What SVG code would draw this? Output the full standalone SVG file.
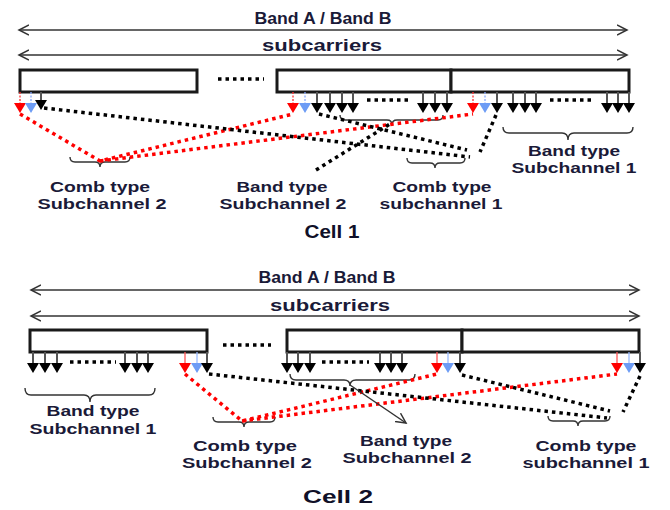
<svg xmlns="http://www.w3.org/2000/svg" xmlns:xlink="http://www.w3.org/1999/xlink" width="670" height="510" viewBox="0 0 670 510">
<style>
.t{font-family:"Liberation Sans",Arial,sans-serif;font-weight:bold;fill:#1a1a38;text-anchor:middle;font-size:14px}
.h{font-size:16px}
.c{font-size:18px;fill:#101028}
.box{fill:#fff;stroke:#1a1a1a;stroke-width:3}
.sh{stroke:#555;stroke-width:2}
.rs{stroke:#ff3030;stroke-width:1.3;stroke-dasharray:2 1.5}
.bs{stroke:#88aaff;stroke-width:1.3;stroke-dasharray:2 1.5}
.rs2{stroke:#ff5555;stroke-width:1.3}
.bs2{stroke:#99bbff;stroke-width:1.3}
.dk{stroke:#000;stroke-width:3.5;stroke-dasharray:3.5 4;fill:none}
.dr{stroke:#ff0000;stroke-width:3.5;stroke-dasharray:3.5 4;fill:none}
.br{fill:none;stroke:#333;stroke-width:1.4}
.ar{stroke:#333;stroke-width:1.5;fill:none}
</style>
<defs>
<path id="hk" d="M-6,0 L6,0 L0,10 Z" fill="#000"/>
<path id="hr" d="M-6,0 L6,0 L0,10 Z" fill="#ff0000"/>
<path id="hb" d="M-6,0 L6,0 L0,10 Z" fill="#6d9cf5"/>
<marker id="oa" markerWidth="12" markerHeight="12" refX="10" refY="6" orient="auto-start-reverse" markerUnits="userSpaceOnUse">
<path d="M0,1 L10,6 L0,11" fill="none" stroke="#333" stroke-width="1.5"/>
</marker>
</defs>

<!-- ===== CELL 1 ===== -->
<g id="c1-span">
<line class="ar" x1="19" y1="30" x2="627" y2="30" marker-start="url(#oa)" marker-end="url(#oa)"/>
<text class="t h" x="323" y="24" textLength="137" lengthAdjust="spacingAndGlyphs">Band A / Band B</text>
<line class="ar" x1="19" y1="55" x2="627" y2="55" marker-start="url(#oa)" marker-end="url(#oa)"/>
<text class="t h" x="322" y="51" textLength="120" lengthAdjust="spacingAndGlyphs">subcarriers</text>
</g>
<g id="c1-band1">
<rect class="box" x="20" y="70" width="177" height="22"/>
<line class="rs" x1="20" y1="92" x2="20" y2="103"/><use xlink:href="#hr" x="20" y="103"/>
<line class="bs" x1="31" y1="92" x2="31" y2="103"/><use xlink:href="#hb" x="31" y="103"/>
<line class="sh" x1="41" y1="92" x2="41" y2="101"/><use xlink:href="#hk" x="41" y="100"/>
</g>
<g id="c1-gap"><line class="dk" x1="218" y1="79" x2="264" y2="79"/></g>
<g id="c1-band2">
<rect class="box" x="277" y="70" width="174" height="22"/>
<line class="rs" x1="293" y1="92" x2="293" y2="103"/><use xlink:href="#hr" x="293" y="103"/>
<line class="bs" x1="305" y1="92" x2="305" y2="103"/><use xlink:href="#hb" x="305" y="103"/>
<line class="sh" x1="317" y1="92" x2="317" y2="103"/><use xlink:href="#hk" x="317" y="103"/>
<line class="sh" x1="330" y1="92" x2="330" y2="103"/><use xlink:href="#hk" x="330" y="103"/>
<line class="sh" x1="342" y1="92" x2="342" y2="103"/><use xlink:href="#hk" x="342" y="103"/>
<line class="sh" x1="353" y1="92" x2="353" y2="103"/><use xlink:href="#hk" x="353" y="103"/>
<line class="dk" x1="367" y1="100" x2="412" y2="100"/>
<line class="sh" x1="423" y1="92" x2="423" y2="103"/><use xlink:href="#hk" x="423" y="103"/>
<line class="sh" x1="435" y1="92" x2="435" y2="103"/><use xlink:href="#hk" x="435" y="103"/>
<line class="sh" x1="447" y1="92" x2="447" y2="103"/><use xlink:href="#hk" x="447" y="103"/>
</g>
<g id="c1-band3">
<rect class="box" x="451" y="70" width="178" height="22"/>
<line class="rs" x1="473" y1="92" x2="473" y2="103"/><use xlink:href="#hr" x="473" y="103"/>
<line class="bs" x1="485" y1="92" x2="485" y2="103"/><use xlink:href="#hb" x="485" y="103"/>
<line class="sh" x1="497" y1="92" x2="497" y2="103"/><use xlink:href="#hk" x="497" y="103"/>
<line class="sh" x1="513" y1="92" x2="513" y2="103"/><use xlink:href="#hk" x="513" y="103"/>
<line class="sh" x1="525" y1="92" x2="525" y2="103"/><use xlink:href="#hk" x="525" y="103"/>
<line class="sh" x1="536" y1="92" x2="536" y2="103"/><use xlink:href="#hk" x="536" y="103"/>
<line class="dk" x1="550" y1="100" x2="595" y2="100"/>
<line class="sh" x1="607" y1="92" x2="607" y2="103"/><use xlink:href="#hk" x="607" y="103"/>
<line class="sh" x1="618" y1="92" x2="618" y2="103"/><use xlink:href="#hk" x="618" y="103"/>
<line class="sh" x1="629" y1="92" x2="629" y2="103"/><use xlink:href="#hk" x="629" y="103"/>
</g>
<g id="c1-comb2">
<path class="br" d="M70,157 Q70,162 75,162 L95,162 Q100,162 100,167 Q100,162 105,162 L125,162 Q130,162 130,157"/>
<text class="t" x="100" y="192" textLength="100" lengthAdjust="spacingAndGlyphs">Comb type</text>
<text class="t" x="102" y="209" textLength="129" lengthAdjust="spacingAndGlyphs">Subchannel 2</text>
</g>
<g id="c1-bandsub2">
<path class="br" d="M340,115 Q340,120 345,120 L387,120 Q392,120 392,125 Q392,120 397,120 L438,120 Q443,120 443,115"/>
<text class="t" x="282" y="192" textLength="91" lengthAdjust="spacingAndGlyphs">Band type</text>
<text class="t" x="283" y="209" textLength="127" lengthAdjust="spacingAndGlyphs">Subchannel 2</text>
</g>
<g id="c1-comb1">
<path class="br" d="M407,158 Q407,163 412,163 L430,163 Q435,163 435,168 Q435,163 440,163 L460,163 Q465,163 465,158"/>
<text class="t" x="442" y="192" textLength="99" lengthAdjust="spacingAndGlyphs">Comb type</text>
<text class="t" x="441" y="209" textLength="123" lengthAdjust="spacingAndGlyphs">subchannel 1</text>
</g>
<g id="c1-bandsub1">
<path class="br" d="M503,127 Q503,133 509,133 L562,133 Q568,133 568,140 Q568,133 574,133 L627,133 Q633,133 633,127"/>
<text class="t" x="574" y="156" textLength="92" lengthAdjust="spacingAndGlyphs">Band type</text>
<text class="t" x="574" y="173" textLength="125" lengthAdjust="spacingAndGlyphs">Subchannel 1</text>
</g>
<g id="c1-title"><text class="t c" x="332" y="238" textLength="55" lengthAdjust="spacingAndGlyphs">Cell 1</text></g>

<!-- ===== CELL 2 ===== -->
<g id="c2-span">
<line class="ar" x1="31" y1="290" x2="639" y2="290" marker-start="url(#oa)" marker-end="url(#oa)"/>
<text class="t h" x="327" y="283" textLength="137" lengthAdjust="spacingAndGlyphs">Band A / Band B</text>
<line class="ar" x1="31" y1="316" x2="639" y2="316" marker-start="url(#oa)" marker-end="url(#oa)"/>
<text class="t h" x="330" y="311" textLength="120" lengthAdjust="spacingAndGlyphs">subcarriers</text>
</g>
<g id="c2-band1">
<rect class="box" x="30" y="330" width="177" height="22"/>
<line class="sh" x1="33" y1="352" x2="33" y2="363"/><use xlink:href="#hk" x="33" y="363"/>
<line class="sh" x1="45" y1="352" x2="45" y2="363"/><use xlink:href="#hk" x="45" y="363"/>
<line class="sh" x1="57" y1="352" x2="57" y2="363"/><use xlink:href="#hk" x="57" y="363"/>
<line class="dk" x1="70" y1="362" x2="116" y2="362"/>
<line class="sh" x1="125" y1="352" x2="125" y2="363"/><use xlink:href="#hk" x="125" y="363"/>
<line class="sh" x1="137" y1="352" x2="137" y2="363"/><use xlink:href="#hk" x="137" y="363"/>
<line class="sh" x1="148" y1="352" x2="148" y2="363"/><use xlink:href="#hk" x="148" y="363"/>
<line class="rs2" x1="185" y1="352" x2="185" y2="363"/><use xlink:href="#hr" x="185" y="363"/>
<line class="bs2" x1="197" y1="352" x2="197" y2="363"/><use xlink:href="#hb" x="197" y="363"/>
<line class="sh" x1="207" y1="352" x2="207" y2="363"/><use xlink:href="#hk" x="207" y="363"/>
</g>
<g id="c2-gap"><line class="dk" x1="223" y1="345" x2="271" y2="345"/></g>
<g id="c2-band2">
<rect class="box" x="287" y="330" width="175" height="22"/>
<line class="sh" x1="287" y1="352" x2="287" y2="363"/><use xlink:href="#hk" x="287" y="363"/>
<line class="sh" x1="298" y1="352" x2="298" y2="363"/><use xlink:href="#hk" x="298" y="363"/>
<line class="sh" x1="310" y1="352" x2="310" y2="363"/><use xlink:href="#hk" x="310" y="363"/>
<line class="dk" x1="322" y1="362" x2="369" y2="362"/>
<line class="sh" x1="380" y1="352" x2="380" y2="363"/><use xlink:href="#hk" x="380" y="363"/>
<line class="sh" x1="391" y1="352" x2="391" y2="363"/><use xlink:href="#hk" x="391" y="363"/>
<line class="sh" x1="402" y1="352" x2="402" y2="363"/><use xlink:href="#hk" x="402" y="363"/>
<line class="rs2" x1="437" y1="352" x2="437" y2="363"/><use xlink:href="#hr" x="437" y="363"/>
<line class="bs2" x1="448" y1="352" x2="448" y2="363"/><use xlink:href="#hb" x="448" y="363"/>
<line class="sh" x1="460" y1="352" x2="460" y2="363"/><use xlink:href="#hk" x="460" y="363"/>
</g>
<g id="c2-band3">
<rect class="box" x="462" y="330" width="177" height="22"/>
<line class="rs2" x1="617" y1="352" x2="617" y2="363"/><use xlink:href="#hr" x="617" y="363"/>
<line class="bs2" x1="629" y1="352" x2="629" y2="363"/><use xlink:href="#hb" x="629" y="363"/>
<line class="sh" x1="640" y1="352" x2="640" y2="363"/><use xlink:href="#hk" x="640" y="363"/>
</g>
<g id="c2-bandsub1">
<path class="br" d="M25,388 Q25,395 31,395 L84,395 Q90,395 90,402 Q90,395 96,395 L149,395 Q155,395 155,388"/>
<text class="t" x="93" y="416" textLength="93" lengthAdjust="spacingAndGlyphs">Band type</text>
<text class="t" x="93" y="434" textLength="127" lengthAdjust="spacingAndGlyphs">Subchannel 1</text>
</g>
<g id="c2-comb2">
<path class="br" d="M213,417 Q213,422 218,422 L239,422 Q244,422 244,427 Q244,422 249,422 L270,422 Q275,422 275,417"/>
<text class="t" x="245" y="451" textLength="104" lengthAdjust="spacingAndGlyphs">Comb type</text>
<text class="t" x="247" y="468" textLength="130" lengthAdjust="spacingAndGlyphs">Subchannel 2</text>
</g>
<g id="c2-bandsub2">
<path class="br" d="M290,374 Q290,380 296,380 L344,380 Q350,380 350,386 Q350,380 356,380 L409,380 Q415,380 415,374"/>
<text class="t" x="406" y="446" textLength="92" lengthAdjust="spacingAndGlyphs">Band type</text>
<text class="t" x="407" y="463" textLength="129" lengthAdjust="spacingAndGlyphs">Subchannel 2</text>
</g>
<g id="c2-comb1">
<path class="br" d="M548,416 Q548,421 553,421 L573,421 Q578,421 578,426 Q578,421 583,421 L605,421 Q610,421 610,416"/>
<text class="t" x="586" y="451" textLength="101" lengthAdjust="spacingAndGlyphs">Comb type</text>
<text class="t" x="586" y="468" textLength="127" lengthAdjust="spacingAndGlyphs">subchannel 1</text>
</g>
<g id="c2-title"><text class="t c" x="338" y="503" textLength="70" lengthAdjust="spacingAndGlyphs">Cell 2</text></g>

<!-- ===== CONNECTORS ===== -->
<g id="connectors">
<polyline class="dr" points="20,114 100,161 293,114"/>
<line class="dr" x1="100" y1="161" x2="473" y2="114"/>
<line class="dk" x1="44" y1="108" x2="470" y2="157"/>
<line class="dk" x1="319" y1="114" x2="467" y2="150"/>
<line class="dk" x1="496" y1="115" x2="480" y2="152"/>
<line class="dk" x1="316" y1="170" x2="390" y2="124"/>

<polyline class="dr" points="185,374 242,421 437,374"/>
<line class="dr" x1="242" y1="421" x2="617" y2="374"/>
<line class="dk" x1="209" y1="374" x2="607" y2="418"/>
<line class="dk" x1="462" y1="375" x2="610" y2="411"/>
<line class="dk" x1="640" y1="376" x2="623" y2="412"/>
<line class="ar" x1="350" y1="385" x2="406" y2="423" stroke-width="1.2" marker-end="url(#oa)"/>
</g>
</svg>
